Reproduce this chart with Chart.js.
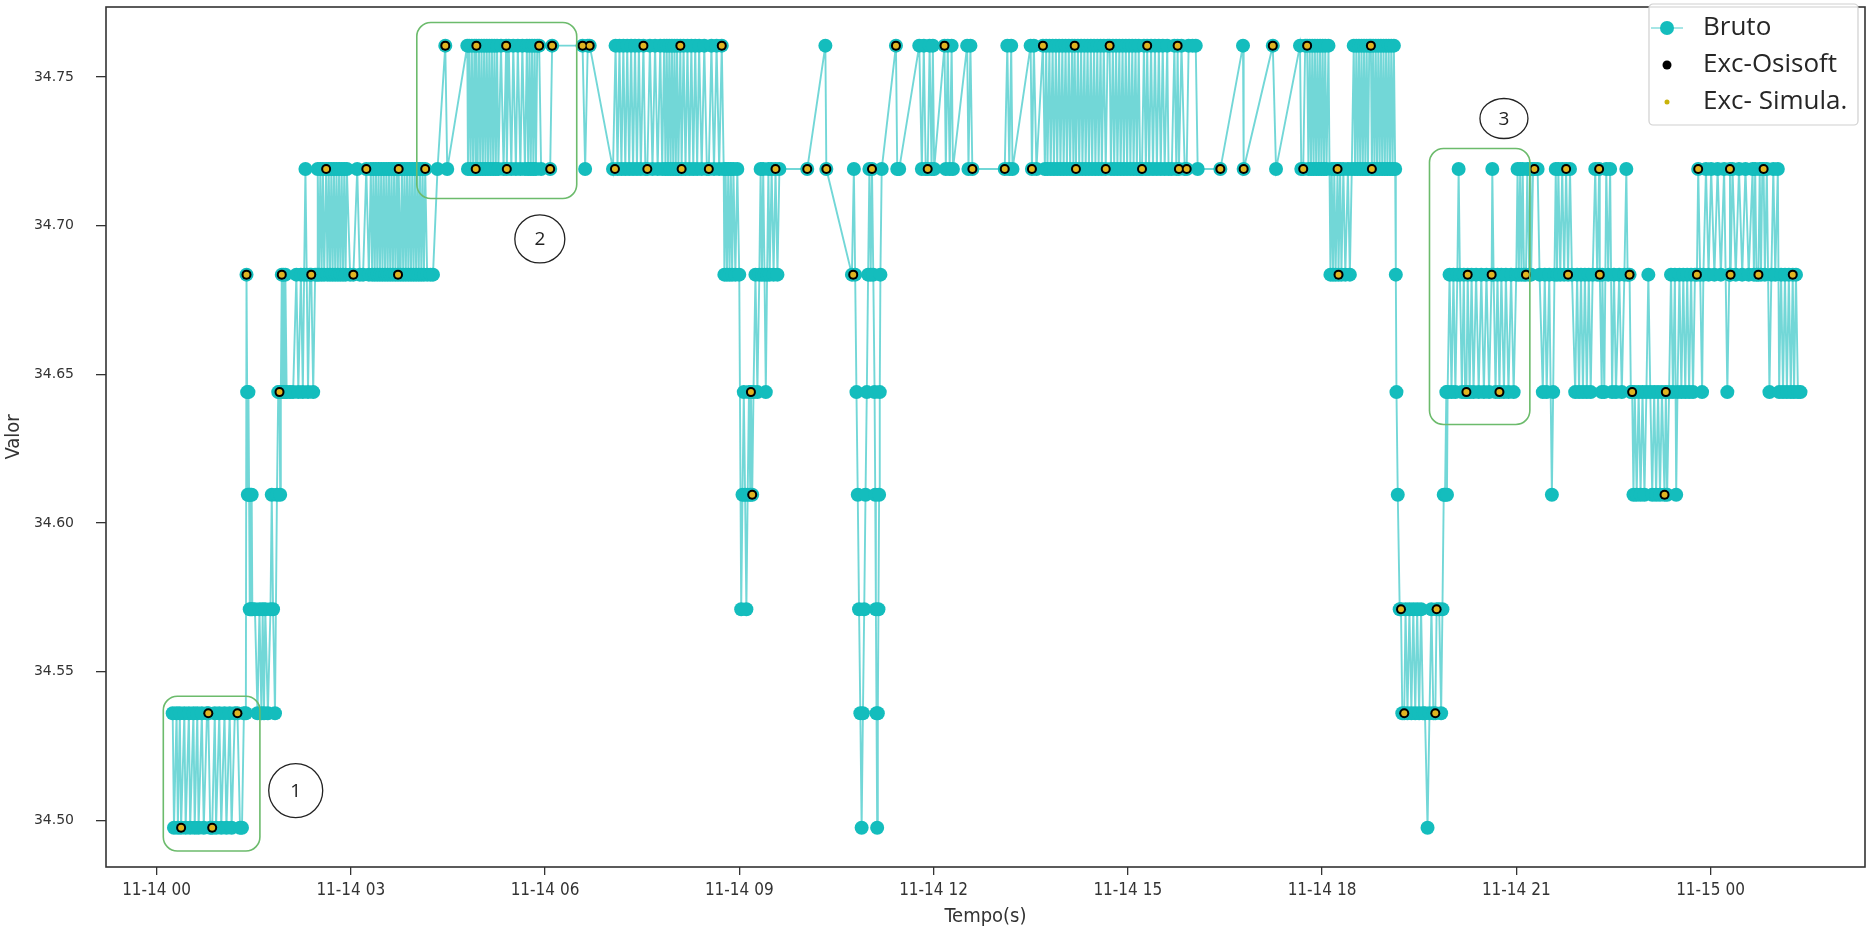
<!DOCTYPE html>
<html>
<head>
<meta charset="utf-8">
<title>Valor x Tempo</title>
<script src="https://cdn.jsdelivr.net/npm/chart.js@4.4.0/dist/chart.umd.min.js"></script>
<style>
  html, body { margin: 0; padding: 0; background: #fff; }
  #wrap { width: 1874px; height: 935px; }
</style>
</head>
<body>
<div id="wrap"><canvas id="myChart" width="1874" height="935"></canvas></div>
<script>
// quantized levels of the signal
const L0 = 34.4975, L1 = 34.536, L2 = 34.571, L3 = 34.6095, L4 = 34.644, L5 = 34.6835, L6 = 34.719, L7 = 34.7605;

// x = hours since 11-14 00:00, y = valor
const seg01 = [[0.25,L1],[0.27,L0],[0.31,L1],[0.33,L0],[0.36,L1],[0.38,L0],[0.43,L1],[0.45,L0],[0.50,L1],[0.52,L0],[0.57,L1],[0.59,L0],[0.63,L1],[0.65,L0],[0.70,L1],[0.73,L0],[0.78,L1],[0.80,L1],[0.83,L0],[0.86,L0],[0.90,L1],[0.92,L0],[0.97,L1],[1.00,L0],[1.05,L1],[1.08,L0],[1.13,L1],[1.16,L0],[1.21,L1],[1.25,L1],[1.29,L0],[1.32,L0],[1.35,L1],[1.38,L1]];
const seg02 = [[1.39,L5],[1.40,L4],[1.41,L3],[1.42,L4],[1.43,L3],[1.44,L2],[1.45,L3],[1.46,L2],[1.47,L3],[1.48,L2],[1.52,L2],[1.56,L1],[1.59,L2],[1.62,L1],[1.64,L2],[1.66,L1],[1.68,L2],[1.72,L1],[1.76,L2],[1.78,L3],[1.80,L2],[1.83,L1],[1.86,L3],[1.88,L4],[1.90,L4],[1.91,L3],[1.92,L4],[1.935,L5],[1.95,L4],[1.96,L5],[1.98,L4],[1.99,L5],[2.01,L4],[2.06,L4],[2.11,L4],[2.16,L5],[2.19,L4],[2.23,L5],[2.26,L4],[2.28,L5],[2.30,L6],[2.32,L5],[2.34,L4],[2.37,L5],[2.39,L5],[2.42,L4],[2.45,L5],[2.48,L5]];
const seg03 = [[2.49,L6],[2.51,L5],[2.53,L6],[2.55,L5],[2.57,L6],[2.59,L5],[2.62,L6],[2.64,L5],[2.66,L6],[2.68,L5],[2.70,L6],[2.72,L5],[2.74,L6],[2.76,L5],[2.78,L6],[2.80,L5],[2.82,L6],[2.84,L5],[2.86,L6],[2.88,L5],[2.90,L6],[2.92,L5],[2.94,L6],[2.99,L5],[3.04,L5],[3.10,L6],[3.14,L5],[3.19,L5],[3.24,L6],[3.28,L5],[3.31,L6],[3.33,L5],[3.35,L6],[3.37,L5],[3.39,L6],[3.41,L5],[3.43,L6],[3.45,L5],[3.47,L6],[3.49,L5],[3.51,L6],[3.53,L5],[3.55,L6],[3.57,L5],[3.59,L6],[3.61,L5],[3.63,L6],[3.65,L5],[3.67,L6],[3.69,L5],[3.71,L6],[3.73,L5],[3.74,L6],[3.77,L5],[3.79,L6],[3.81,L5],[3.83,L6],[3.85,L5],[3.87,L6],[3.89,L5],[3.91,L6],[3.93,L5],[3.95,L6],[3.97,L5],[3.99,L6],[4.01,L5],[4.03,L6],[4.05,L5],[4.07,L6],[4.09,L5],[4.11,L6],[4.13,L5],[4.15,L6],[4.18,L5],[4.23,L5],[4.27,L5],[4.34,L6],[4.46,L7],[4.49,L6],[4.80,L7]];
const seg04 = [[4.81,L6],[4.83,L7],[4.85,L6],[4.87,L7],[4.89,L6],[4.91,L7],[4.93,L6],[4.94,L7],[4.96,L6],[4.98,L7],[5.00,L6],[5.02,L7],[5.04,L6],[5.06,L7],[5.08,L6],[5.10,L7],[5.12,L6],[5.14,L7],[5.16,L6],[5.18,L7],[5.20,L6],[5.22,L7],[5.24,L6],[5.26,L7],[5.28,L6],[5.32,L7],[5.36,L6],[5.40,L7],[5.41,L6],[5.44,L7],[5.48,L6],[5.51,L7],[5.55,L6],[5.58,L7],[5.62,L6],[5.65,L7],[5.69,L6],[5.72,L7],[5.74,L6],[5.76,L7],[5.78,L6],[5.80,L7],[5.82,L6],[5.84,L7],[5.86,L6],[5.88,L7],[5.91,L7],[5.94,L6],[6.08,L6],[6.11,L7]];
const seg05 = [[6.58,L7],[6.62,L6],[6.66,L7],[6.69,L7],[7.05,L6],[7.09,L7],[7.12,L6],[7.15,L7],[7.18,L6],[7.21,L7],[7.24,L6],[7.27,L7],[7.30,L6],[7.33,L7],[7.36,L6],[7.39,L7],[7.42,L6],[7.45,L7],[7.48,L6],[7.52,L7],[7.55,L6],[7.58,L6],[7.62,L7],[7.66,L6],[7.70,L7],[7.74,L6],[7.78,L7],[7.81,L6],[7.84,L7],[7.86,L6],[7.88,L7],[7.90,L6],[7.92,L7],[7.94,L6],[7.96,L7],[7.98,L6],[8.00,L7],[8.02,L6],[8.04,L7],[8.06,L6],[8.09,L7],[8.11,L6],[8.14,L7],[8.17,L6],[8.20,L7],[8.23,L6],[8.26,L7],[8.29,L6],[8.32,L7],[8.35,L6],[8.38,L7],[8.42,L6],[8.46,L7],[8.50,L6],[8.53,L6],[8.57,L7],[8.61,L6],[8.65,L7],[8.69,L6],[8.73,L7],[8.76,L6]];
const seg06 = [[8.77,L5],[8.79,L6],[8.81,L5],[8.83,L6],[8.85,L5],[8.87,L6],[8.89,L5],[8.91,L6],[8.94,L5],[8.97,L6],[9.00,L5],[9.03,L2],[9.05,L3],[9.07,L4],[9.09,L3],[9.11,L2],[9.13,L3],[9.15,L4],[9.17,L3],[9.18,L4],[9.20,L3],[9.22,L4],[9.25,L5],[9.28,L4],[9.31,L5],[9.33,L6],[9.35,L5],[9.37,L6],[9.39,L5],[9.41,L4],[9.43,L5],[9.45,L6],[9.47,L5],[9.50,L6],[9.53,L5],[9.56,L6],[9.59,L5],[9.62,L6],[10.05,L6],[10.33,L7],[10.345,L6]];
const seg07 = [[10.74,L5],[10.77,L6],[10.79,L5],[10.81,L4],[10.83,L3],[10.85,L2],[10.87,L1],[10.89,L0],[10.91,L1],[10.93,L2],[10.95,L3],[10.97,L4],[10.99,L5],[11.01,L6],[11.03,L5],[11.05,L6],[11.07,L5],[11.09,L4],[11.10,L3],[11.11,L2],[11.12,L1],[11.13,L0],[11.14,L1],[11.15,L2],[11.16,L3],[11.17,L4],[11.18,L5],[11.20,L6]];
const seg08 = [[11.42,L7],[11.44,L6],[11.47,L6],[11.78,L7],[11.82,L6],[11.85,L7],[11.88,L6],[11.91,L6],[11.94,L7],[11.97,L6],[11.99,L7],[12.01,L6],[12.17,L7],[12.19,L6],[12.22,L7],[12.25,L6],[12.28,L7],[12.30,L6],[12.52,L7],[12.54,L6],[12.57,L7],[12.60,L6],[13.10,L6],[13.14,L7],[13.17,L6],[13.20,L7],[13.22,L6],[13.50,L7],[13.52,L6],[13.55,L7],[13.59,L6],[13.69,L7],[13.72,L6]];
const seg09 = [[13.74,L7],[13.76,L6],[13.79,L7],[13.81,L6],[13.84,L7],[13.86,L6],[13.89,L7],[13.91,L6],[13.94,L7],[13.96,L6],[13.99,L7],[14.01,L6],[14.04,L7],[14.06,L6],[14.09,L7],[14.11,L6],[14.14,L7],[14.16,L6],[14.18,L7],[14.20,L6],[14.23,L7],[14.25,L6],[14.28,L7],[14.30,L6],[14.33,L7],[14.35,L6],[14.38,L7],[14.40,L6],[14.43,L7],[14.45,L6],[14.48,L7],[14.50,L6],[14.53,L7],[14.55,L6],[14.58,L7],[14.60,L6],[14.63,L7],[14.66,L6],[14.69,L7],[14.72,L7],[14.74,L6],[14.77,L7],[14.79,L6],[14.82,L7],[14.84,L6],[14.87,L7],[14.89,L6],[14.92,L7],[14.94,L6],[14.97,L7],[14.99,L6],[15.02,L7],[15.04,L6],[15.07,L7],[15.09,L6],[15.12,L7],[15.14,L6],[15.17,L7],[15.19,L6],[15.22,L6],[15.25,L7],[15.28,L6],[15.30,L7],[15.33,L6],[15.36,L7],[15.39,L6],[15.42,L7],[15.45,L6],[15.48,L7],[15.51,L6],[15.54,L7],[15.57,L6],[15.61,L7]];
const seg10 = [[15.63,L6],[15.68,L6],[15.72,L7],[15.75,L6],[15.77,L7],[15.79,L6],[15.83,L7],[15.88,L6],[15.91,L6],[15.94,L7],[16.00,L7],[16.05,L7],[16.08,L6],[16.43,L6],[16.78,L7],[16.79,L6],[17.24,L7],[17.29,L6],[17.66,L7],[17.68,L6],[17.71,L6],[17.74,L7],[17.77,L7],[17.79,L6],[17.81,L7],[17.83,L6],[17.85,L7],[17.87,L6],[17.89,L7],[17.91,L6],[17.93,L7],[17.95,L6],[17.97,L7],[17.99,L6],[18.01,L7],[18.03,L6],[18.05,L7],[18.07,L6],[18.10,L7],[18.13,L5],[18.15,L6],[18.17,L5],[18.19,L6],[18.21,L5],[18.24,L6],[18.255,L5],[18.28,L6],[18.30,L5],[18.33,L6],[18.36,L5],[18.40,L6],[18.43,L5],[18.46,L6],[18.49,L7],[18.51,L6],[18.53,L7],[18.55,L6],[18.57,L7],[18.59,L6],[18.61,L7],[18.63,L6],[18.65,L7],[18.67,L6],[18.69,L7],[18.71,L6],[18.73,L7],[18.755,L7],[18.77,L6],[18.79,L7],[18.81,L6],[18.83,L7],[18.85,L6],[18.87,L7],[18.89,L6],[18.91,L7],[18.93,L6],[18.95,L7],[18.97,L6],[18.99,L7],[19.01,L6],[19.03,L7],[19.05,L6],[19.07,L7],[19.09,L6],[19.11,L7],[19.13,L6]];
const seg11 = [[19.14,L5],[19.15,L4],[19.17,L3],[19.20,L2],[19.22,L2],[19.24,L1],[19.27,L1],[19.29,L2],[19.32,L1],[19.35,L2],[19.38,L1],[19.41,L2],[19.44,L1],[19.47,L2],[19.50,L1],[19.53,L2],[19.56,L1],[19.59,L1],[19.63,L0],[19.66,L1],[19.69,L2],[19.72,L1],[19.75,L1],[19.77,L2],[19.81,L2],[19.84,L1],[19.86,L2],[19.88,L3],[19.90,L3],[19.92,L4]];
const seg12 = [[19.93,L3],[19.94,L4],[19.97,L5],[20.00,L4],[20.03,L5],[20.06,L4],[20.09,L5],[20.11,L6],[20.13,L5],[20.16,L4],[20.19,L5],[20.21,L4],[20.23,L4],[20.25,L5],[20.28,L4],[20.31,L5],[20.34,L4],[20.38,L5],[20.42,L4],[20.46,L5],[20.50,L4],[20.54,L5],[20.58,L4],[20.62,L5],[20.63,L6],[20.65,L5],[20.68,L4],[20.71,L5],[20.74,L4],[20.77,L5],[20.81,L4],[20.84,L5],[20.88,L4],[20.92,L5],[20.96,L4],[21.00,L5],[21.02,L6],[21.04,L5],[21.06,L6],[21.08,L5],[21.10,L6],[21.12,L5],[21.15,L5],[21.17,L6],[21.20,L5],[21.22,L6]];
const seg13 = [[21.23,L5],[21.26,L6],[21.28,L6],[21.33,L6],[21.36,L5],[21.41,L4],[21.44,L5],[21.47,L4],[21.51,L5],[21.55,L3],[21.57,L4],[21.59,L5],[21.61,L6],[21.63,L5],[21.65,L6],[21.68,L5],[21.71,L6],[21.74,L5],[21.77,L6],[21.80,L5],[21.83,L6],[21.86,L5],[21.91,L4],[21.94,L5],[21.97,L4],[22.00,L5],[22.03,L4],[22.06,L5],[22.09,L4],[22.12,L5],[22.15,L4],[22.18,L5],[22.22,L6],[22.25,L5],[22.28,L6],[22.29,L5],[22.32,L4]];
const seg14 = [[22.33,L5],[22.36,L4],[22.39,L6],[22.42,L5],[22.45,L6],[22.48,L4],[22.51,L5],[22.54,L4],[22.59,L5],[22.63,L4],[22.67,L5],[22.70,L6],[22.72,L5],[22.75,L5],[22.77,L4],[22.79,L4],[22.81,L3],[22.83,L4],[22.86,L3],[22.89,L4],[22.92,L3],[22.95,L4],[22.98,L3],[23.01,L4],[23.04,L5],[23.07,L4],[23.10,L3],[23.13,L4],[23.16,L3],[23.19,L4],[23.22,L3],[23.25,L4],[23.29,L3],[23.31,L4],[23.33,L3],[23.36,L4],[23.39,L5],[23.42,L4],[23.45,L5],[23.47,L3],[23.49,L4],[23.52,L5],[23.55,L4],[23.58,L5],[23.61,L4],[23.64,L5],[23.67,L4],[23.70,L5],[23.73,L4],[23.76,L5],[23.79,L5],[23.81,L6],[23.84,L5],[23.87,L4],[23.89,L5],[23.93,L6],[23.97,L5],[24.01,L6],[24.06,L5],[24.11,L6],[24.16,L5],[24.21,L6],[24.26,L4],[24.29,L5]];
const seg15 = [[24.30,L6],[24.31,L5],[24.34,L6],[24.39,L5],[24.44,L6],[24.49,L5],[24.54,L6],[24.59,L5],[24.65,L6],[24.67,L5],[24.69,L6],[24.71,L5],[24.74,L5],[24.76,L6],[24.78,L5],[24.80,L6],[24.82,L6],[24.84,L5],[24.87,L6],[24.91,L4],[24.94,L5],[24.97,L6],[25.00,L5],[25.04,L6],[25.06,L4],[25.09,L5],[25.12,L4],[25.15,L5],[25.18,L4],[25.21,L5],[25.24,L4],[25.27,L5],[25.29,L4],[25.32,L5],[25.35,L4],[25.39,L4]];

// exception points (Osisoft and the simulation agree on these)
const excecoes = [[0.38,L0],[0.80,L1],[0.86,L0],[1.25,L1],[1.39,L5],[1.90,L4],[1.935,L5],[2.39,L5],[2.62,L6],[3.04,L5],[3.24,L6],[3.73,L5],[3.74,L6],[4.15,L6],
  [4.46,L7],[4.94,L7],[4.93,L6],[5.40,L7],[5.41,L6],[5.91,L7],[6.08,L6],[6.11,L7],[6.58,L7],[6.69,L7],[7.08,L6],[7.52,L7],[7.58,L6],[8.09,L7],[8.11,L6],[8.53,L6],[8.73,L7],
  [9.18,L4],[9.20,L3],[9.56,L6],[10.05,L6],[10.345,L6],[10.76,L5],[11.05,L6],[11.42,L7],[11.91,L6],[12.17,L7],[12.60,L6],[13.10,L6],[13.52,L6],[13.69,L7],
  [14.18,L7],[14.20,L6],[14.66,L6],[14.72,L7],[15.22,L6],[15.30,L7],[15.77,L7],[15.79,L6],[15.91,L6],[16.43,L6],[16.79,L6],[17.24,L7],[17.71,L6],[17.77,L7],[18.24,L6],[18.255,L5],[18.755,L7],[18.77,L6],
  [19.22,L2],[19.27,L1],[19.75,L1],[19.77,L2],[20.23,L4],[20.25,L5],[20.62,L5],[20.74,L4],[21.15,L5],
  [21.28,L6],[21.77,L6],[21.80,L5],[22.28,L6],[22.29,L5],[22.75,L5],[22.79,L4],[23.29,L3],[23.31,L4],[23.79,L5],[23.81,L6],[24.30,L6],[24.31,L5],[24.74,L5],[24.82,L6],[25.27,L5]];

const xTickHours = [0, 3, 6, 9, 12, 15, 18, 21, 24];
const xTickLabels = ['11-14 00', '11-14 03', '11-14 06', '11-14 09', '11-14 12', '11-14 15', '11-14 18', '11-14 21', '11-15 00'];
const yTicks = [34.50, 34.55, 34.60, 34.65, 34.70, 34.75];

// highlighted regions (data units) and their numbered callouts
const regioes = [
  { x0: 0.105, x1: 1.597, y0: 34.5417, y1: 34.4897 },
  { x0: 4.02, x1: 6.49, y0: 34.7683, y1: 34.7091 },
  { x0: 19.66, x1: 21.21, y0: 34.7259, y1: 34.6331 }
];
const rotulos = [
  { x: 2.15, y: 34.510, text: '1' },
  { x: 5.92, y: 34.6955, text: '2' },
  { x: 20.81, y: 34.736, text: '3' }
];

const toPts = arr => arr.map(p => ({ x: p[0], y: p[1] }));
const bruto = toPts([].concat(seg01, seg02, seg03, seg04, seg05, seg06, seg07, seg08, seg09, seg10, seg11, seg12, seg13, seg14, seg15));

const TEAL = '#14BDBD';
const condensed = "'DejaVu Sans Condensed', 'Liberation Sans Narrow', 'DejaVu Sans', sans-serif";

function roundRect(ctx, x, y, w, h, r) {
  ctx.beginPath();
  ctx.moveTo(x + r, y);
  ctx.lineTo(x + w - r, y);
  ctx.arcTo(x + w, y, x + w, y + r, r);
  ctx.lineTo(x + w, y + h - r);
  ctx.arcTo(x + w, y + h, x + w - r, y + h, r);
  ctx.lineTo(x + r, y + h);
  ctx.arcTo(x, y + h, x, y + h - r, r);
  ctx.lineTo(x, y + r);
  ctx.arcTo(x, y, x + r, y, r);
  ctx.closePath();
}

const extras = {
  id: 'extras',
  afterDraw(chart) {
    const { ctx, chartArea: a, scales: { x, y } } = chart;
    ctx.save();

    // green boxes
    ctx.strokeStyle = '#6cbb6c';
    ctx.lineWidth = 1.6;
    regioes.forEach(b => {
      const px0 = x.getPixelForValue(b.x0), px1 = x.getPixelForValue(b.x1);
      const py0 = y.getPixelForValue(b.y0), py1 = y.getPixelForValue(b.y1);
      roundRect(ctx, px0, py0, px1 - px0, py1 - py0, 14);
      ctx.stroke();
    });

    // numbered circles
    const raios = [[27, 27], [25, 24], [24, 20]];
    rotulos.forEach((r, i) => {
      const cx = x.getPixelForValue(r.x), cy = y.getPixelForValue(r.y);
      ctx.beginPath();
      ctx.ellipse(cx, cy, raios[i][0], raios[i][1], 0, 0, Math.PI * 2);
      ctx.fillStyle = '#fff';
      ctx.fill();
      ctx.strokeStyle = '#222';
      ctx.lineWidth = 1.3;
      ctx.stroke();
      ctx.fillStyle = '#222';
      ctx.font = "19px 'Open Sans', sans-serif";
      ctx.textAlign = 'center';
      ctx.textBaseline = 'middle';
      ctx.fillText(r.text, cx, cy + 1);
    });

    // frame around the plot
    ctx.strokeStyle = '#333';
    ctx.lineWidth = 1.6;
    ctx.strokeRect(a.left, a.top, a.right - a.left, a.bottom - a.top);

    // legend (matplotlib style, upper right)
    ctx.fillStyle = 'rgba(255,255,255,0.85)';
    ctx.strokeStyle = '#d0d0d0';
    ctx.lineWidth = 1.2;
    roundRect(ctx, 1649, 4, 209, 121, 4);
    ctx.fill();
    ctx.stroke();

    ctx.strokeStyle = 'rgba(20,189,189,0.5)';
    ctx.lineWidth = 1.5;
    ctx.beginPath(); ctx.moveTo(1651, 28); ctx.lineTo(1683, 28); ctx.stroke();
    ctx.fillStyle = TEAL;
    ctx.beginPath(); ctx.arc(1667, 28, 7, 0, Math.PI * 2); ctx.fill();
    ctx.fillStyle = '#000';
    ctx.beginPath(); ctx.arc(1667, 65, 4.5, 0, Math.PI * 2); ctx.fill();
    ctx.fillStyle = '#c9b30a';
    ctx.beginPath(); ctx.arc(1667, 102, 2.5, 0, Math.PI * 2); ctx.fill();

    ctx.fillStyle = '#262626';
    ctx.font = "26px 'Open Sans', sans-serif";
    ctx.textAlign = 'left';
    ctx.textBaseline = 'middle';
    ctx.fillText('Bruto', 1703, 28);
    ctx.fillText('Exc-Osisoft', 1703, 65);
    ctx.fillText('Exc- Simula.', 1703, 102);

    ctx.restore();
  }
};

const ctx = document.getElementById('myChart').getContext('2d');

const myChart = new Chart(ctx, {
  type: 'scatter',
  data: {
    datasets: [
      {
        label: 'Bruto',
        data: bruto,
        showLine: true,
        borderColor: 'rgba(20,189,189,0.6)',
        borderWidth: 1.9,
        pointRadius: 7,
        pointBorderWidth: 0,
        pointBackgroundColor: TEAL,
        order: 3
      },
      {
        label: 'Exc-Osisoft',
        data: toPts(excecoes),
        pointRadius: 5,
        pointBorderWidth: 0,
        pointBackgroundColor: '#000',
        order: 2
      },
      {
        label: 'Exc- Simula.',
        data: toPts(excecoes),
        pointRadius: 3,
        pointBorderWidth: 0,
        pointBackgroundColor: '#E0B420',
        order: 1
      }
    ]
  },
  options: {
    responsive: false,
    animation: false,
    devicePixelRatio: 1,
    events: [],
    layout: { padding: { top: 1, right: 9, left: 0, bottom: 0 } },
    plugins: {
      legend: { display: false },
      tooltip: { enabled: false }
    },
    scales: {
      x: {
        type: 'linear',
        min: -0.78,
        max: 26.386,
        afterBuildTicks: axis => { axis.ticks = xTickHours.map(v => ({ value: v })); },
        afterFit: scale => {
          scale.height = 68;
          scale.paddingLeft = 0; scale.paddingRight = 0;
        },
        border: { display: false },
        grid: { drawOnChartArea: false, drawTicks: true, tickLength: 8, color: '#333', lineWidth: 1.3 },
        ticks: {
          autoSkip: false,
          maxRotation: 0,
          padding: 5,
          color: '#333',
          font: { family: condensed, size: 17 },
          callback: v => xTickLabels[xTickHours.indexOf(v)]
        },
        title: {
          display: true,
          text: 'Tempo(s)',
          color: '#333',
          font: { family: condensed, size: 20 },
          padding: { top: 0, bottom: 6 }
        }
      },
      y: {
        type: 'linear',
        min: 34.4843,
        max: 34.7735,
        afterBuildTicks: axis => { axis.ticks = yTicks.map(v => ({ value: v })); },
        afterFit: scale => {
          scale.width = 106;
          scale.paddingTop = 0; scale.paddingBottom = 0;
        },
        border: { display: false },
        grid: { drawOnChartArea: false, drawTicks: true, tickLength: 10, color: '#333', lineWidth: 1.3 },
        ticks: {
          padding: 22,
          color: '#333',
          font: { family: "'DejaVu Sans', sans-serif", size: 14 },
          callback: v => v.toFixed(2)
        },
        title: {
          display: true,
          text: 'Valor',
          color: '#333',
          font: { family: condensed, size: 20 },
          padding: { top: 2, bottom: 0 }
        }
      }
    }
  },
  plugins: [extras]
});
</script>
</body>
</html>
